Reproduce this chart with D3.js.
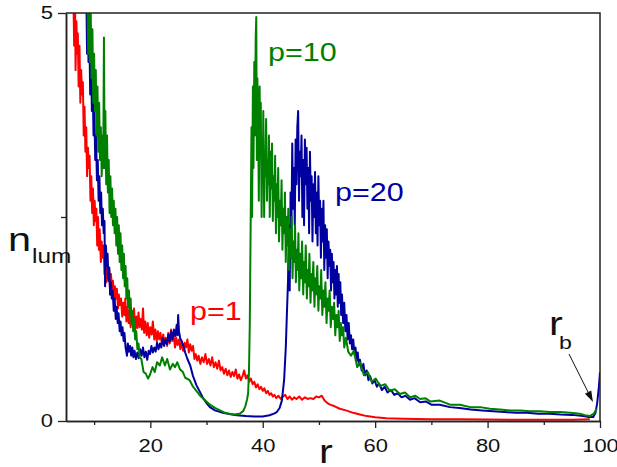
<!DOCTYPE html>
<html>
<head>
<meta charset="utf-8">
<script src="https://cdn.jsdelivr.net/npm/d3@7"></script>
<style>
  body { margin: 0; background: #fff; }
  text { font-family: "Liberation Sans", Arial, sans-serif; }
</style>
</head>
<body>
<div id="chart"></div>
<script>
// luminous particle density vs radius, three values of p
var xTicks = [20, 40, 60, 80, 100];
var xMinor = [10, 30, 50, 70, 90];
var yTicks = [0, 5];
var yMinor = [2.5];

var redPts = [[6.3,5.3],[6.45,4.6],[6.6,5.2],[6.7,4.3],[6.85,4.9],[7.0,4.5],[7.1,4.75],[7.25,4.1],[7.4,4.6],[7.55,3.9],[7.7,4.3],[7.85,4.0],[8.0,4.15],[8.15,3.5],[8.3,3.85],[8.45,3.3],[8.6,3.6],[8.75,3.0],[8.9,3.35],[9.05,3.1],[9.2,3.25],[9.35,2.7],[9.5,3.0],[9.65,2.55],[9.8,2.85],[9.95,2.4],[10.1,2.7],[10.25,2.45],[10.4,2.6],[10.55,2.15],[10.7,2.5],[10.85,2.1],[11.0,2.35],[11.2,1.95],[11.35,2.2],[11.5,2.0],[11.7,2.15],[11.85,1.8],[12.0,2.0],[12.2,1.7],[12.35,1.92],[12.5,1.75],[12.7,1.85],[12.85,1.55],[13.0,1.8],[13.2,1.6],[13.35,1.72],[13.55,1.45],[13.7,1.65],[13.9,1.5],[14.05,1.62],[14.25,1.38],[14.4,1.55],[14.6,1.42],[14.8,1.5],[15.0,1.28],[15.2,1.45],[15.4,1.3],[15.55,1.5],[15.75,1.22],[15.95,1.4],[16.15,1.2],[16.3,1.35],[16.5,1.15],[16.7,1.32],[16.9,1.18],[17.1,1.38],[17.3,1.1],[17.5,1.28],[17.7,1.14],[17.9,1.33],[18.1,1.15],[18.3,1.25],[18.5,1.12],[18.7,1.38],[18.9,1.08],[19.1,1.22],[19.35,1.05],[19.55,1.2],[19.8,1.02],[20.0,1.15],[20.25,1.06],[20.45,1.22],[20.7,1.0],[20.9,1.12],[21.15,0.98],[21.35,1.1],[21.6,1.0],[21.8,1.08],[22.05,0.94],[22.3,1.06],[22.5,0.96],[22.75,1.02],[23.0,0.92],[23.2,1.08],[23.45,0.95],[23.7,1.12],[23.9,0.98],[24.15,1.05],[24.4,0.9],[24.6,1.02],[24.85,0.93],[25.1,1.0],[25.35,0.88],[25.6,0.98],[25.85,0.86],[26.1,0.96],[26.35,0.9],[26.6,1.0],[26.85,0.84],[27.1,0.94],[27.35,0.86],[27.6,0.92],[27.85,0.76],[28.1,0.82],[28.35,0.74],[28.6,0.8],[28.9,0.7],[29.2,0.78],[29.5,0.72],[29.8,0.82],[30.1,0.7],[30.4,0.76],[30.7,0.68],[31.0,0.78],[31.3,0.66],[31.6,0.72],[31.9,0.64],[32.2,0.74],[32.5,0.62],[32.8,0.66],[33.1,0.58],[33.4,0.64],[33.7,0.56],[34.0,0.62],[34.3,0.54],[34.6,0.6],[34.9,0.55],[35.2,0.63],[35.5,0.52],[35.8,0.57],[36.1,0.5],[36.4,0.55],[36.7,0.62],[37.0,0.52],[37.3,0.56],[37.6,0.48],[37.9,0.52],[38.2,0.45],[38.5,0.48],[38.8,0.41],[39.1,0.45],[39.4,0.39],[39.7,0.42],[40.0,0.37],[40.3,0.4],[40.6,0.34],[40.9,0.37],[41.2,0.32],[41.5,0.34],[41.8,0.3],[42.1,0.32],[42.4,0.28],[42.8,0.31],[43.2,0.27],[43.6,0.3],[44.0,0.32],[44.4,0.27],[44.8,0.3],[45.2,0.26],[45.6,0.29],[46.0,0.27],[46.5,0.3],[47.0,0.26],[47.5,0.29],[48.0,0.27],[48.5,0.28],[49.0,0.27],[49.5,0.3],[50.0,0.29],[50.5,0.31],[51.0,0.25],[51.5,0.22],[52.0,0.2],[52.8,0.18],[53.7,0.15],[54.8,0.13],[56.1,0.1],[57.3,0.08],[58.5,0.06],[60.0,0.045],[62,0.035],[65,0.028],[70,0.022],[75,0.02],[80,0.018],[85,0.016],[90,0.015],[95,0.016],[98.2,0.02]];

var greenPts = [[8.8,5.3],[8.95,4.5],[9.1,5.2],[9.25,4.4],[9.4,5.0],[9.55,4.2],[9.7,4.8],[9.85,3.9],[10.0,4.5],[10.15,3.8],[10.3,4.3],[10.45,3.5],[10.6,4.1],[10.75,3.3],[10.9,3.9],[11.05,3.2],[11.2,3.6],[11.35,3.0],[11.5,3.5],[11.62,3.1],[11.75,4.7],[11.88,3.1],[12.0,3.8],[12.15,2.9],[12.3,3.5],[12.45,2.8],[12.6,3.2],[12.75,2.55],[12.9,3.0],[13.05,2.5],[13.2,2.85],[13.35,2.4],[13.5,2.7],[13.65,2.3],[13.8,2.6],[13.95,2.15],[14.1,2.5],[14.25,2.05],[14.4,2.4],[14.55,1.95],[14.7,2.3],[14.85,1.85],[15.0,2.15],[15.15,1.75],[15.3,2.05],[15.45,1.65],[15.6,1.9],[15.75,1.5],[15.9,1.75],[16.05,1.4],[16.2,1.6],[16.35,1.3],[16.5,1.5],[16.65,1.2],[16.8,1.35],[16.95,1.1],[17.1,1.25],[17.3,1.0],[17.5,1.1],[17.7,0.88],[17.9,0.95],[18.1,0.78],[18.4,0.76],[18.8,0.6],[19.2,0.58],[19.6,0.52],[19.9,0.56],[20.4,0.66],[20.8,0.6],[21.2,0.72],[21.7,0.68],[22.1,0.78],[22.6,0.68],[23.0,0.76],[23.5,0.63],[24.0,0.7],[24.4,0.66],[24.8,0.72],[25.3,0.63],[25.8,0.6],[26.2,0.53],[27.0,0.5],[27.6,0.42],[28.3,0.36],[29.0,0.3],[29.8,0.25],[30.6,0.2],[31.5,0.16],[32.4,0.13],[33.3,0.1],[34.2,0.085],[35.0,0.08],[35.9,0.09],[36.5,0.12],[36.9,0.18],[37.2,0.26],[37.4,0.34],[37.55,0.6],[37.7,1.2],[37.85,2.4],[38.0,3.6],[38.1,2.5],[38.25,4.1],[38.35,3.1],[38.5,4.4],[38.6,3.5],[38.75,4.7],[38.85,4.95],[38.95,3.2],[39.05,4.2],[39.2,3.6],[39.3,2.7],[39.45,4.1],[39.55,3.3],[39.65,3.9],[39.8,2.5],[39.9,3.4],[40.0,3.0],[40.1,3.8],[40.25,2.5],[40.35,3.3],[40.45,3.0],[40.6,3.7],[40.75,2.7],[40.85,3.2],[41.0,2.9],[41.1,3.5],[41.25,2.5],[41.4,3.3],[41.5,2.85],[41.65,3.4],[41.8,2.45],[41.95,3.0],[42.1,2.7],[42.2,3.25],[42.35,2.3],[42.5,2.9],[42.6,2.5],[42.75,3.1],[42.9,2.2],[43.05,2.7],[43.2,2.4],[43.35,2.95],[43.5,2.1],[43.65,2.6],[43.8,2.3],[43.95,2.8],[44.1,1.95],[44.25,2.5],[44.4,2.15],[44.55,2.6],[44.7,1.85],[44.85,2.35],[45.0,2.0],[45.15,2.5],[45.3,1.75],[45.45,2.2],[45.6,1.95],[45.75,2.4],[45.9,1.7],[46.05,2.1],[46.2,1.85],[46.35,2.3],[46.5,1.6],[46.7,2.05],[46.85,1.75],[47.0,2.2],[47.2,1.55],[47.35,1.95],[47.5,1.7],[47.65,2.15],[47.85,1.5],[48.0,1.85],[48.15,1.65],[48.3,2.05],[48.5,1.45],[48.65,1.8],[48.8,1.6],[49.0,1.95],[49.2,1.4],[49.35,1.75],[49.5,1.55],[49.7,1.9],[49.9,1.35],[50.05,1.65],[50.25,1.5],[50.4,1.85],[50.6,1.3],[50.8,1.6],[50.95,1.4],[51.15,1.7],[51.35,1.2],[51.55,1.5],[51.7,1.35],[51.9,1.6],[52.1,1.15],[52.3,1.4],[52.5,1.25],[52.7,1.45],[52.9,1.05],[53.1,1.3],[53.3,1.15],[53.5,1.35],[53.7,0.98],[53.9,1.2],[54.1,1.05],[54.3,1.15],[54.5,0.9],[54.8,1.02],[55.2,0.85],[55.7,0.8],[56.2,0.86],[56.8,0.66],[57.3,0.72],[58.0,0.56],[58.7,0.6],[59.4,0.48],[60.1,0.52],[60.9,0.43],[61.8,0.45],[62.6,0.37],[63.5,0.39],[64.4,0.33],[65.3,0.35],[66.2,0.29],[67.1,0.31],[68.0,0.27],[68.9,0.28],[69.8,0.24],[71.5,0.25],[73.3,0.2],[75.1,0.2],[76.9,0.17],[78.7,0.17],[80.4,0.15],[82.2,0.14],[84.0,0.13],[85.8,0.13],[87.5,0.12],[89.3,0.12],[91.1,0.11],[92.9,0.11],[94.7,0.1],[96.4,0.09],[97.3,0.07],[98.2,0.06],[98.9,0.09],[99.4,0.15]];

var bluePts = [[8.6,5.3],[8.75,4.5],[8.9,5.1],[9.0,4.4],[9.15,4.8],[9.3,4.0],[9.45,4.5],[9.6,3.8],[9.75,4.1],[9.9,3.5],[10.05,3.8],[10.2,3.2],[10.35,3.5],[10.5,2.95],[10.65,3.2],[10.8,2.7],[10.95,3.0],[11.1,2.55],[11.25,2.8],[11.4,2.4],[11.55,2.6],[11.7,2.3],[11.85,2.45],[11.95,1.65],[12.1,2.15],[12.25,1.9],[12.4,2.05],[12.55,1.72],[12.7,1.88],[12.85,1.55],[13.0,1.7],[13.15,1.5],[13.3,1.6],[13.5,1.35],[13.65,1.5],[13.85,1.25],[14.0,1.4],[14.2,1.2],[14.35,1.32],[14.55,1.1],[14.7,1.22],[14.9,1.05],[15.05,1.15],[15.25,0.98],[15.4,1.08],[15.6,0.9],[15.85,0.8],[16.0,0.95],[16.2,0.85],[16.4,0.92],[16.6,0.8],[16.8,0.9],[17.0,0.78],[17.2,0.86],[17.45,0.76],[17.7,0.84],[17.95,0.77],[18.2,0.88],[18.45,0.8],[18.7,0.9],[18.95,0.78],[19.2,0.85],[19.45,0.75],[19.7,0.86],[19.95,0.82],[20.2,0.92],[20.45,0.84],[20.7,0.9],[20.95,0.85],[21.2,0.96],[21.45,0.88],[21.7,0.95],[21.95,0.9],[22.2,1.02],[22.45,0.92],[22.7,1.0],[22.95,0.94],[23.2,1.06],[23.45,0.97],[23.7,1.1],[23.95,1.0],[24.2,1.12],[24.45,1.04],[24.7,1.18],[24.85,1.05],[24.95,1.3],[25.1,1.1],[25.3,1.02],[25.6,0.97],[25.9,0.92],[26.2,0.84],[26.6,0.76],[27.1,0.68],[27.6,0.55],[28.2,0.44],[28.8,0.36],[29.4,0.28],[30.0,0.22],[30.6,0.17],[31.5,0.13],[32.9,0.1],[34.0,0.085],[35.4,0.07],[37.0,0.06],[38.5,0.055],[40.0,0.055],[41.2,0.07],[42.0,0.09],[42.5,0.11],[43.0,0.16],[43.4,0.25],[43.8,0.5],[44.1,0.9],[44.3,1.32],[44.5,1.72],[44.65,2.4],[44.8,1.6],[44.95,2.8],[45.1,2.3],[45.25,3.4],[45.4,2.6],[45.55,3.1],[45.7,2.4],[45.85,3.45],[46.0,2.9],[46.15,3.6],[46.3,3.8],[46.45,2.7],[46.6,3.3],[46.75,3.0],[46.9,3.5],[47.05,2.5],[47.2,3.2],[47.35,2.4],[47.5,3.45],[47.65,2.9],[47.8,3.35],[47.95,2.6],[48.1,3.1],[48.25,2.3],[48.4,3.3],[48.55,2.7],[48.7,3.0],[48.85,2.2],[49.0,2.9],[49.15,2.5],[49.3,3.05],[49.45,2.3],[49.6,2.8],[49.75,2.15],[49.9,3.0],[50.05,2.4],[50.2,2.7],[50.35,2.0],[50.5,2.6],[50.65,2.2],[50.8,2.7],[50.95,1.85],[51.1,2.4],[51.25,2.0],[51.4,2.35],[51.55,1.75],[51.7,2.2],[51.85,1.9],[52.0,2.1],[52.15,1.6],[52.3,2.05],[52.45,1.7],[52.6,1.95],[52.75,1.5],[52.9,1.85],[53.05,1.55],[53.2,1.9],[53.35,1.4],[53.5,1.8],[53.65,1.45],[53.8,1.7],[53.95,1.3],[54.1,1.55],[54.3,1.2],[54.5,1.45],[54.7,1.1],[54.9,1.3],[55.1,1.0],[55.3,1.2],[55.5,0.95],[55.7,1.05],[55.9,0.88],[56.1,1.0],[56.3,0.82],[56.5,0.9],[56.7,0.74],[56.9,0.84],[57.1,0.68],[57.3,0.75],[57.6,0.62],[57.9,0.7],[58.2,0.56],[58.5,0.62],[58.8,0.5],[59.1,0.55],[59.5,0.46],[59.9,0.5],[60.3,0.42],[60.7,0.46],[61.2,0.38],[61.7,0.42],[62.2,0.35],[62.8,0.38],[63.4,0.32],[64.0,0.34],[64.7,0.29],[65.4,0.31],[66.2,0.26],[67.0,0.28],[68.0,0.23],[69.0,0.24],[70.0,0.2],[71.5,0.2],[73.3,0.17],[75.0,0.16],[77.0,0.14],[79.0,0.13],[81.0,0.12],[83.0,0.11],[85.0,0.1],[87.0,0.1],[89.0,0.09],[91.0,0.09],[93.0,0.08],[95.0,0.075],[97.0,0.06],[98.0,0.05],[98.8,0.05],[99.2,0.1],[99.5,0.22],[99.8,0.42],[100,0.6]];

var series = [
    { name: "p=1", pts: redPts, color: "#ff0000", lx: 190, ly: 320 },
    { name: "p=20", pts: bluePts, color: "#0000a0", lx: 335, ly: 201 },
    { name: "p=10", pts: greenPts, color: "#008000", lx: 268, ly: 61 }
];

var W = 617, H = 467;
var x0 = 66, x1 = 600, yTop = 13, yBot = 421;
var sx = 1.22; // glyphs in the original are a bit wide

var svg = d3.select("#chart").append("svg")
    .attr("width", W)
    .attr("height", H);

var x = d3.scaleLinear().domain([5, 100]).range([x0, x1]);
var y = d3.scaleLinear().domain([0, 5]).range([yBot, yTop]);

svg.append("defs").append("clipPath").attr("id", "clip")
    .append("rect")
    .attr("x", x0).attr("y", yTop)
    .attr("width", x1 - x0).attr("height", yBot - yTop);

var line = d3.line()
    .x(function(d) { return x(d[0]); })
    .y(function(d) { return y(d[1]); });

var plot = svg.append("g").attr("clip-path", "url(#clip)");
series.forEach(function(s) {
    plot.append("path")
        .datum(s.pts)
        .attr("fill", "none")
        .attr("stroke", s.color)
        .attr("stroke-width", 2)
        .attr("stroke-linejoin", "round")
        .attr("d", line);
});

// frame
svg.append("path")
    .attr("d", "M" + x0 + "," + yTop + "H" + x1 + "V" + yBot)
    .attr("fill", "none")
    .attr("stroke", "#222")
    .attr("stroke-width", 1.5);

// axes
var xAxis = svg.append("g")
    .attr("transform", "translate(0," + yBot + ")")
    .call(d3.axisBottom(x).tickValues(xTicks).tickSize(7).tickPadding(11).tickSizeOuter(0));
svg.append("g")
    .attr("transform", "translate(0," + yBot + ")")
    .call(d3.axisBottom(x).tickValues(xMinor).tickSize(4).tickFormat("").tickSizeOuter(0));

var yAxis = svg.append("g")
    .attr("transform", "translate(" + x0 + ",0)")
    .call(d3.axisLeft(y).tickValues(yTicks).tickSize(8).tickFormat(d3.format("d")).tickSizeOuter(0));
svg.append("g")
    .attr("transform", "translate(" + x0 + ",0)")
    .call(d3.axisLeft(y).tickValues(yMinor).tickSize(5).tickFormat("").tickSizeOuter(0));

svg.selectAll(".domain").attr("stroke", "#222").attr("stroke-width", 1.5);
svg.selectAll(".tick line").attr("stroke", "#222").attr("stroke-width", 1.3);

xAxis.selectAll("text")
    .attr("font-size", 18)
    .attr("fill", "#111")
    .attr("transform", "scale(" + sx + ",1)");
yAxis.selectAll("text")
    .attr("font-size", 18)
    .attr("fill", "#111")
    .attr("x", -13 / sx)
    .attr("transform", "scale(" + sx + ",1)");

function label(txt, px, py, size, color) {
    return svg.append("text")
        .attr("transform", "translate(" + px + "," + py + ") scale(" + sx + ",1)")
        .attr("font-size", size)
        .attr("fill", color)
        .text(txt);
}

// axis titles
label("r", 319, 463, 34, "#111");
label("n", 8, 251, 34, "#111");
label("lum", 32, 263, 20, "#111");

// series labels
series.forEach(function(s) {
    label(s.name, s.lx, s.ly, 25, s.color);
});

// r_b annotation with arrow
label("r", 549, 335, 34, "#111");
label("b", 559, 349, 19, "#111");

var ax0 = 569, ay0 = 354, ax1 = 593, ay1 = 402;
var ang = Math.atan2(ay1 - ay0, ax1 - ax0);
var hl = 11, hw = 3.5;
var bx = ax1 - hl * Math.cos(ang), by = ay1 - hl * Math.sin(ang);
svg.append("line")
    .attr("x1", ax0).attr("y1", ay0)
    .attr("x2", bx).attr("y2", by)
    .attr("stroke", "#111").attr("stroke-width", 1);
svg.append("path")
    .attr("d", "M" + ax1 + "," + ay1 +
        "L" + (bx + hw * Math.sin(ang)) + "," + (by - hw * Math.cos(ang)) +
        "L" + (bx - hw * Math.sin(ang)) + "," + (by + hw * Math.cos(ang)) + "Z")
    .attr("fill", "#111");
</script>
</body>
</html>
